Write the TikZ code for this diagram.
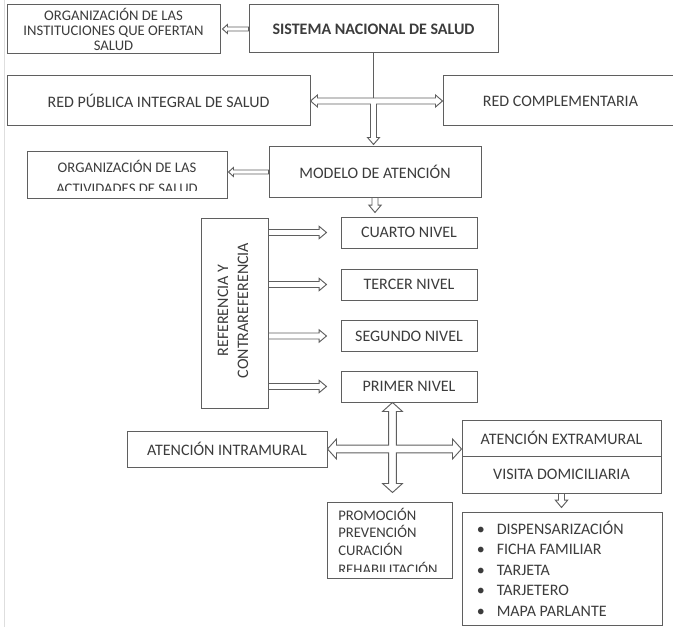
\documentclass[tikz,border=0pt]{standalone}
\usepackage{fontspec}
\setmainfont{Carlito}
\usetikzlibrary{calc}
\definecolor{ln}{RGB}{95,95,95}
\definecolor{tx}{RGB}{60,60,60}
\definecolor{pg}{RGB}{222,222,222}
\newcommand{\fbig}{\fontsize{12}{14.5}\selectfont}
\newcommand{\fsm}{\fontsize{11}{11.5}\selectfont}
\tikzset{
 box/.style={draw=ln, line width=0.75pt, fill=white, inner sep=0pt, text=tx, align=center, font=\fbig},
 txt/.style={inner sep=0pt, text=tx, font=\fsm},
 ltxt/.style={inner sep=0pt, text=tx, font=\fbig},
 arr/.style={draw=ln, fill=white, line width=0.7pt, line join=miter},
 plainln/.style={draw=ln, line width=0.75pt},
}
% hollow block arrow: #1 from, #2 tip, #3 shaft half, #4 head half, #5 head length
\newcommand{\hollow}[5]{%
 \path ($(#2)!#5!(#1)$) coordinate (hb);
 \filldraw[arr] ($(#1)!#3!90:(#2)$) -- ($(hb)!#3!-90:(#1)$) -- ($(hb)!#4!-90:(#1)$) -- (#2)
   -- ($(hb)!#4!90:(#1)$) -- ($(hb)!#3!90:(#1)$) -- ($(#1)!#3!-90:(#2)$) -- cycle;
}
\newcommand{\arrS}[2]{\hollow{#1}{#2}{1.5pt}{3.4pt}{3.75pt}}
\newcommand{\arrM}[2]{\hollow{#1}{#2}{2.25pt}{4.6pt}{5.5pt}}
\begin{document}
\begin{tikzpicture}[x=0.75pt,y=-0.75pt]
\useasboundingbox (0,0) rectangle (673,627);
\draw[pg, line width=0.75pt] (4,0) -- (4,627);

% boxes
\node[box, minimum width=159.75pt, minimum height=36.75pt, font=\fsm] (orginst) at (113.5,29.5) {ORGANIZACIÓN DE LAS\\INSTITUCIONES QUE OFERTAN\\SALUD};
\node[box, minimum width=186.75pt, minimum height=36pt, font=\fbig\bfseries] (sistema) at (373.5,29) {SISTEMA NACIONAL DE SALUD};
\node[box, minimum width=227.25pt, minimum height=37.5pt] (redpub) at (158.5,101) {RED PÚBLICA INTEGRAL DE SALUD};
\node[box, minimum width=176.25pt, minimum height=37.5pt] (redcomp) at (560.5,101) {RED COMPLEMENTARIA};
\node[box, minimum width=159pt, minimum height=37.5pt] (modelo) at (375,172) {MODELO DE ATENCIÓN};
\node[box, minimum width=150pt, minimum height=34.5pt] (orgact) at (127,175) {};
\begin{scope}
 \clip (27,152) rectangle (227,190.5);
 \node[txt, anchor=base] (oa1) at (127,172.5) {ORGANIZACIÓN DE LAS};
 \node[txt, anchor=base] (oa2) at (127,193.5) {ACTIVIDADES DE SALUD};
\end{scope}
\node[box, minimum width=102pt, minimum height=23.25pt] (cuarto) at (409,232.5) {CUARTO NIVEL};
\node[box, minimum width=102pt, minimum height=23.25pt] (tercer) at (409,284.5) {TERCER NIVEL};
\node[box, minimum width=102pt, minimum height=23.25pt] (segundo) at (409,336) {SEGUNDO NIVEL};
\node[box, minimum width=102pt, minimum height=23.25pt] (primer) at (409,386.5) {PRIMER NIVEL};
\node[box, minimum width=50.25pt, minimum height=142.5pt] (ref) at (234.5,313) {};
\node[txt, font=\fontsize{12}{15}\selectfont, align=center, rotate=90] (reftxt) at (233,310.5) {REFERENCIA Y\\CONTRAREFERENCIA};
\node[box, minimum width=150pt, minimum height=27pt] (intra) at (227,449) {ATENCIÓN INTRAMURAL};
\node[box, minimum width=149.25pt, minimum height=27pt] (extra) at (561.5,438) {ATENCIÓN EXTRAMURAL};
\node[box, minimum width=149.25pt, minimum height=27.75pt] (visita) at (561.5,474.5) {VISITA DOMICILIARIA};
\node[box, minimum width=93.75pt, minimum height=57pt] (promo) at (389.5,540) {};
\begin{scope}
 \clip (327,502) rectangle (452,571);
 \node[txt, anchor=base west] (p1) at (338,520) {PROMOCIÓN};
 \node[txt, anchor=base west] (p2) at (338,537.5) {PREVENCIÓN};
 \node[txt, anchor=base west] (p3) at (338,555) {CURACIÓN};
 \node[txt, anchor=base west] (p4) at (338,574) {REHABILITACIÓN};
\end{scope}
\node[box, minimum width=150pt, minimum height=84.75pt] (list) at (562,568.5) {};
\node[ltxt, anchor=base west] (l1) at (476.5,534) {\makebox[15pt][l]{\textbullet}DISPENSARIZACIÓN};
\node[ltxt, anchor=base west] (l2) at (476.5,554.5) {\makebox[15pt][l]{\textbullet}FICHA FAMILIAR};
\node[ltxt, anchor=base west] (l3) at (476.5,575) {\makebox[15pt][l]{\textbullet}TARJETA};
\node[ltxt, anchor=base west] (l4) at (476.5,595.5) {\makebox[15pt][l]{\textbullet}TARJETERO};
\node[ltxt, anchor=base west] (l5) at (476.5,616) {\makebox[15pt][l]{\textbullet}MAPA PARLANTE};

% sistema -> org instituciones
\path (orginst.east |- sistema.west) ++(2,0) coordinate (t1);
\arrS{sistema.west}{t1}

% row 2 junction (T-shaped double arrow)
\coordinate (jc) at (sistema.south |- redpub.east);
\path (jc |- modelo.north) ++(0,-2) coordinate (jd);
\filldraw[arr] (redpub.east) -- ($(redpub.east)+(7,-6)$) -- ($(redpub.east)+(7,-3)$)
  -- ($(redcomp.west)+(-7,-3)$) -- ($(redcomp.west)+(-7,-6)$) -- (redcomp.west)
  -- ($(redcomp.west)+(-7,6)$) -- ($(redcomp.west)+(-7,3)$)
  -- ($(jc)+(3,3)$) -- ($(jd)+(3,-7)$) -- ($(jd)+(6,-7)$) -- (jd)
  -- ($(jd)+(-6,-7)$) -- ($(jd)+(-3,-7)$) -- ($(jc)+(-3,3)$)
  -- ($(redpub.east)+(7,3)$) -- ($(redpub.east)+(7,6)$) -- cycle;
\path (jc) ++(0,-3) coordinate (jtop);
\draw[plainln] (sistema.south) -- (jtop);

% modelo -> org actividades
\path (orgact.east |- modelo.west) ++(1,0) coordinate (t2);
\arrS{modelo.west}{t2}

% modelo -> cuarto
\path (modelo.south |- cuarto.north) ++(0,-4) coordinate (t3);
\arrM{modelo.south}{t3}

% referencia -> niveles
\foreach \n in {cuarto,tercer,segundo,primer}{
 \path (ref.east |- \n.west) coordinate (\n-s);
 \path (\n.west) ++(-14,0) coordinate (\n-t);
 \arrM{\n-s}{\n-t}
}

% cross (four-headed double arrow)
\path (primer.south west) ++(52,0) coordinate (cxp);
\coordinate (cx) at (cxp |- intra.east);
\coordinate (vt) at (cx |- primer.south);
\path (cx |- promo.north) ++(0,-9) coordinate (vb);
\coordinate (hr) at (extra.west |- intra.east);
\filldraw[arr] (intra.east) -- ($(intra.east)+(9,-10)$) -- ($(intra.east)+(9,-3.8)$)
  -- ($(cx)+(-3.8,-3.8)$) -- ($(vt)+(-3.8,9)$) -- ($(vt)+(-10,9)$) -- (vt)
  -- ($(vt)+(10,9)$) -- ($(vt)+(3.8,9)$) -- ($(cx)+(3.8,-3.8)$)
  -- ($(hr)+(-9,-3.8)$) -- ($(hr)+(-9,-10)$) -- (hr) -- ($(hr)+(-9,10)$) -- ($(hr)+(-9,3.8)$)
  -- ($(cx)+(3.8,3.8)$) -- ($(vb)+(3.8,-9)$) -- ($(vb)+(10,-9)$) -- (vb)
  -- ($(vb)+(-10,-9)$) -- ($(vb)+(-3.8,-9)$) -- ($(cx)+(-3.8,3.8)$)
  -- ($(intra.east)+(9,3.8)$) -- ($(intra.east)+(9,10)$) -- cycle;

% visita -> list
\path (visita.south |- list.north) ++(0,-4) coordinate (t4);
\arrM{visita.south}{t4}
\end{tikzpicture}
\end{document}
